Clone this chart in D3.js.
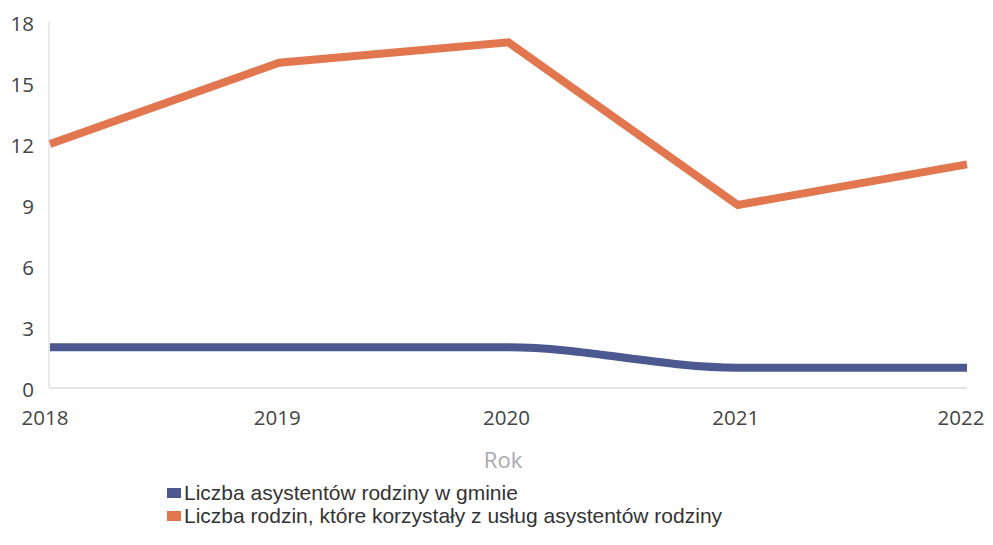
<!DOCTYPE html>
<html><head><meta charset="utf-8">
<script src="https://cdn.jsdelivr.net/npm/d3@7/dist/d3.min.js"></script>
<style>
body{margin:0;background:#fff;}
svg{display:block;}
</style></head>
<body>
<svg id="chart" width="993" height="545"></svg>
<script>
const years = ["2018","2019","2020","2021","2022"];
const asystenci = [2, 2, 2, 1, 1];
const rodziny = [12, 16, 17, 9, 11];
const yTicks = [0, 3, 6, 9, 12, 15, 18];
const seriesNames = ["Liczba asystentów rodziny w gminie", "Liczba rodzin, które korzystały z usług asystentów rodziny"];
const seriesColors = ["#4b5990", "#e2764e"];
const xTitle = "Rok";

const svg = d3.select("#chart");
const x = d3.scalePoint().domain(years).range([50, 967]);
const y = d3.scaleLinear().domain([0, 18]).range([388, 22]);

// axes lines
svg.append("line").attr("x1", x(years[0]) - 1).attr("x2", x(years[0]) - 1)
  .attr("y1", y(18)).attr("y2", y(0)).attr("stroke", "#e2e2e6").attr("stroke-width", 1.5);
svg.append("line").attr("x1", x(years[0]) - 1).attr("x2", x(years[years.length-1]))
  .attr("y1", y(0)).attr("y2", y(0)).attr("stroke", "#dcdce0").attr("stroke-width", 1.5);

// y tick labels
svg.append("g").selectAll("text").data(yTicks).join("text")
  .attr("x", 34).attr("y", d => y(d) + 2).attr("dy", "0.35em")
  .attr("text-anchor", "end")
  .attr("font-family", "Open Sans, sans-serif").attr("font-size", 20.5)
  .attr("fill", "#444").text(d => d);

// x tick labels
svg.append("g").selectAll("text").data(years).join("text")
  .attr("x", (d, i) => x(d) + (i === 0 ? -5 : (i === years.length - 1 ? -6 : -2)))
  .attr("y", 425)
  .attr("text-anchor", "middle")
  .attr("font-family", "Open Sans, sans-serif").attr("font-size", 20.5)
  .attr("fill", "#444").text(d => d);

// x title
svg.append("text").attr("x", 503).attr("y", 468).attr("text-anchor", "middle")
  .attr("font-family", "Open Sans, sans-serif").attr("font-size", 22)
  .attr("fill", "#a8a8b4").text(xTitle);

// lines
const lineLin = d3.line().x((d, i) => x(years[i])).y(d => y(d));
const lineSmooth = d3.line().x((d, i) => x(years[i])).y(d => y(d)).curve(d3.curveMonotoneX);

svg.append("path").datum(asystenci).attr("d", lineSmooth)
  .attr("fill", "none").attr("stroke", seriesColors[0]).attr("stroke-width", 8);
svg.append("path").datum(rodziny).attr("d", lineLin)
  .attr("fill", "none").attr("stroke", seriesColors[1]).attr("stroke-width", 8)
  .attr("stroke-linejoin", "miter");

// legend
const leg = svg.append("g").attr("transform", "translate(167,484)");
seriesNames.forEach((name, i) => {
  const g = leg.append("g").attr("transform", `translate(0,${i * 23})`);
  g.append("rect").attr("x", 0).attr("y", 4).attr("width", 14).attr("height", 10)
    .attr("fill", seriesColors[i]);
  g.append("text").attr("x", 17).attr("y", 16)
    .attr("font-family", "Liberation Sans, Arial, sans-serif").attr("font-size", 21)
    .attr("textLength", null)
    .attr("fill", "#333").text(name);
});
</script>
</body></html>
